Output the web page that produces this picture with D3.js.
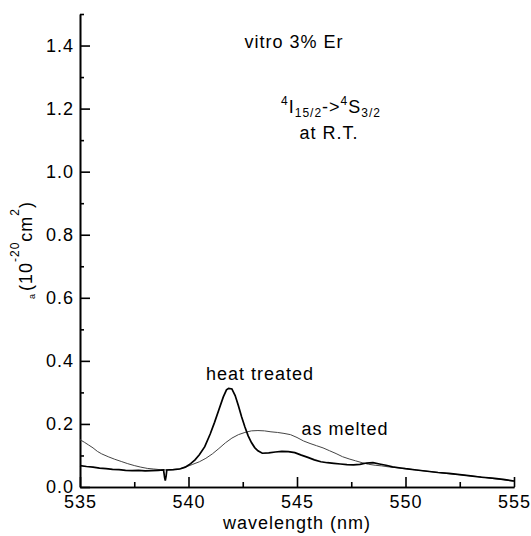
<!DOCTYPE html>
<html>
<head>
<meta charset="utf-8">
<script src="https://cdn.jsdelivr.net/npm/d3@7"></script>
<style>
  body { margin: 0; background: #fff; }
  svg { display: block; font-family: "Liberation Sans", Arial, sans-serif; letter-spacing: 1px; }
  .axis path, .axis line { stroke: #000; stroke-width: 1.6; }
  .axis text { font-size: 18px; fill: #000; font-family: "Liberation Sans", Arial, sans-serif; }
</style>
</head>
<body>
<div id="chart"></div>
<script>
// absorption cross section readings, [wavelength nm, value 1e-20 cm^2]
const heatTreated = [
  [535.0, 0.068], [535.3, 0.065], [535.6, 0.063], [535.9, 0.060], [536.2, 0.058],
  [536.5, 0.056], [536.8, 0.055], [537.1, 0.053], [537.4, 0.052], [537.7, 0.053],
  [538.0, 0.051], [538.3, 0.052], [538.6, 0.053], [538.85, 0.054], [538.9, 0.030],
  [538.93, 0.020], [538.97, 0.035], [539.0, 0.054], [539.3, 0.055], [539.6, 0.057],
  [539.85, 0.063], [540.1, 0.074], [540.3, 0.086], [540.5, 0.102], [540.75, 0.128],
  [541.0, 0.168], [541.2, 0.205], [541.4, 0.245], [541.6, 0.285], [541.75, 0.308],
  [541.85, 0.313], [542.0, 0.311], [542.15, 0.290], [542.3, 0.258], [542.45, 0.222],
  [542.6, 0.190], [542.75, 0.162], [542.9, 0.141], [543.05, 0.125], [543.2, 0.115],
  [543.4, 0.107], [543.7, 0.108], [544.0, 0.111], [544.3, 0.113], [544.6, 0.112],
  [544.9, 0.109], [545.2, 0.101], [545.5, 0.094], [545.8, 0.086], [546.1, 0.080],
  [546.4, 0.077], [546.7, 0.075], [547.0, 0.073], [547.3, 0.071], [547.6, 0.070],
  [547.9, 0.072], [548.2, 0.076], [548.5, 0.077], [548.8, 0.073], [549.1, 0.069],
  [549.4, 0.064], [549.7, 0.061], [550.0, 0.058], [550.5, 0.054], [551.0, 0.050],
  [551.5, 0.046], [552.0, 0.043], [552.5, 0.039], [553.0, 0.035], [553.5, 0.031],
  [554.0, 0.028], [554.5, 0.024], [555.0, 0.019]
];

const asMelted = [
  [535.0, 0.150], [535.2, 0.142], [535.4, 0.133], [535.6, 0.124], [535.8, 0.113],
  [536.0, 0.105], [536.3, 0.096], [536.6, 0.088], [536.9, 0.081], [537.2, 0.074],
  [537.5, 0.068], [537.8, 0.063], [538.1, 0.059], [538.4, 0.057], [538.7, 0.055],
  [539.0, 0.054], [539.3, 0.055], [539.6, 0.058], [539.9, 0.064], [540.2, 0.072],
  [540.5, 0.080], [540.8, 0.091], [541.1, 0.105], [541.4, 0.122], [541.7, 0.140],
  [542.0, 0.155], [542.3, 0.166], [542.6, 0.173], [542.9, 0.178], [543.2, 0.179],
  [543.5, 0.178], [543.8, 0.175], [544.1, 0.173], [544.4, 0.170], [544.7, 0.166],
  [545.0, 0.157], [545.3, 0.146], [545.6, 0.138], [545.9, 0.131], [546.2, 0.124],
  [546.5, 0.115], [546.8, 0.106], [547.1, 0.096], [547.4, 0.089], [547.7, 0.083],
  [548.0, 0.077], [548.3, 0.072], [548.6, 0.069], [548.9, 0.067], [549.2, 0.064],
  [549.5, 0.062], [549.8, 0.059], [550.0, 0.058], [550.5, 0.054], [551.0, 0.050],
  [551.5, 0.046], [552.0, 0.042], [552.5, 0.039], [553.0, 0.035], [553.5, 0.032],
  [554.0, 0.027], [554.5, 0.023], [555.0, 0.018]
];

const xMajor = [535, 540, 545, 550, 555];
const xMinor = [537.5, 542.5, 547.5, 552.5];
const yMajor = [0, 0.2, 0.4, 0.6, 0.8, 1.0, 1.2, 1.4];
const yMinor = [0.1, 0.3, 0.5, 0.7, 0.9, 1.1, 1.3, 1.5];

const width = 531, height = 536;
const margin = { top: 14, right: 17, bottom: 49, left: 80 };

const svg = d3.select('#chart').append('svg')
    .attr('width', width)
    .attr('height', height);

const x = d3.scaleLinear().domain([535, 555]).range([margin.left, width - margin.right]);
const y = d3.scaleLinear().domain([0, 1.5]).range([height - margin.bottom, margin.top]);

// axes, ticks pointing inward
svg.append('g').attr('class', 'axis')
    .attr('transform', `translate(0,${y(0)})`)
    .call(d3.axisBottom(x).tickValues(xMajor).tickSize(-10).tickSizeOuter(0)
        .tickPadding(8).tickFormat(d3.format('d')));
svg.append('g').attr('class', 'axis')
    .attr('transform', `translate(0,${y(0)})`)
    .call(d3.axisBottom(x).tickValues(xMinor).tickSize(-5).tickSizeOuter(0).tickFormat(''));

svg.append('g').attr('class', 'axis')
    .attr('transform', `translate(${x(535)},0)`)
    .call(d3.axisLeft(y).tickValues(yMajor).tickSize(-10).tickSizeOuter(0)
        .tickPadding(6).tickFormat(d3.format('.1f')));
svg.append('g').attr('class', 'axis')
    .attr('transform', `translate(${x(535)},0)`)
    .call(d3.axisLeft(y).tickValues(yMinor).tickSize(-4).tickSizeOuter(0).tickFormat(''));

svg.selectAll('.axis text').attr('font-family', null);

const line = d3.line().x(d => x(d[0])).y(d => y(d[1]));

svg.append('path').datum(asMelted)
    .attr('d', line)
    .attr('fill', 'none')
    .attr('stroke', '#444')
    .attr('stroke-width', 1);

svg.append('path').datum(heatTreated)
    .attr('d', line)
    .attr('fill', 'none')
    .attr('stroke', '#000')
    .attr('stroke-width', 1.7);

// labels
const txt = (px, py, s, anchor) => svg.append('text')
    .attr('x', px).attr('y', py)
    .attr('text-anchor', anchor || 'middle')
    .attr('font-size', 18)
    .attr('fill', '#000')
    .text(s);

txt(260, 380, 'heat treated');
txt(345, 435, 'as melted');
txt(294, 48, 'vitro 3% Er');
txt(329, 139, 'at R.T.');
txt(297, 529, 'wavelength (nm)');

// transition label with super/subscripts
const tr = svg.append('text')
    .attr('x', 331).attr('y', 113)
    .attr('text-anchor', 'middle')
    .attr('font-size', 18)
    .attr('fill', '#000');
tr.append('tspan').attr('font-size', 12).attr('dy', -8).text('4');
tr.append('tspan').attr('dy', 8).text('I');
tr.append('tspan').attr('font-size', 12).attr('dy', 4).text('15/2');
tr.append('tspan').attr('dy', -4).text('->');
tr.append('tspan').attr('font-size', 12).attr('dy', -8).text('4');
tr.append('tspan').attr('dy', 8).text('S');
tr.append('tspan').attr('font-size', 12).attr('dy', 4).text('3/2');

// y axis title, rotated
const yl = svg.append('text')
    .attr('transform', 'translate(32,299) rotate(-90)')
    .attr('font-size', 18)
    .attr('fill', '#000');
yl.append('tspan').attr('font-size', 9).attr('dy', 3).text('a');
yl.append('tspan').attr('dx', 2).attr('dy', -3).text('(10');
yl.append('tspan').attr('font-size', 12).attr('dy', -13).text('-20');
yl.append('tspan').attr('dy', 13).text('cm');
yl.append('tspan').attr('font-size', 12).attr('dy', -13).text('2');
yl.append('tspan').attr('dy', 13).text(')');
</script>
</body>
</html>
